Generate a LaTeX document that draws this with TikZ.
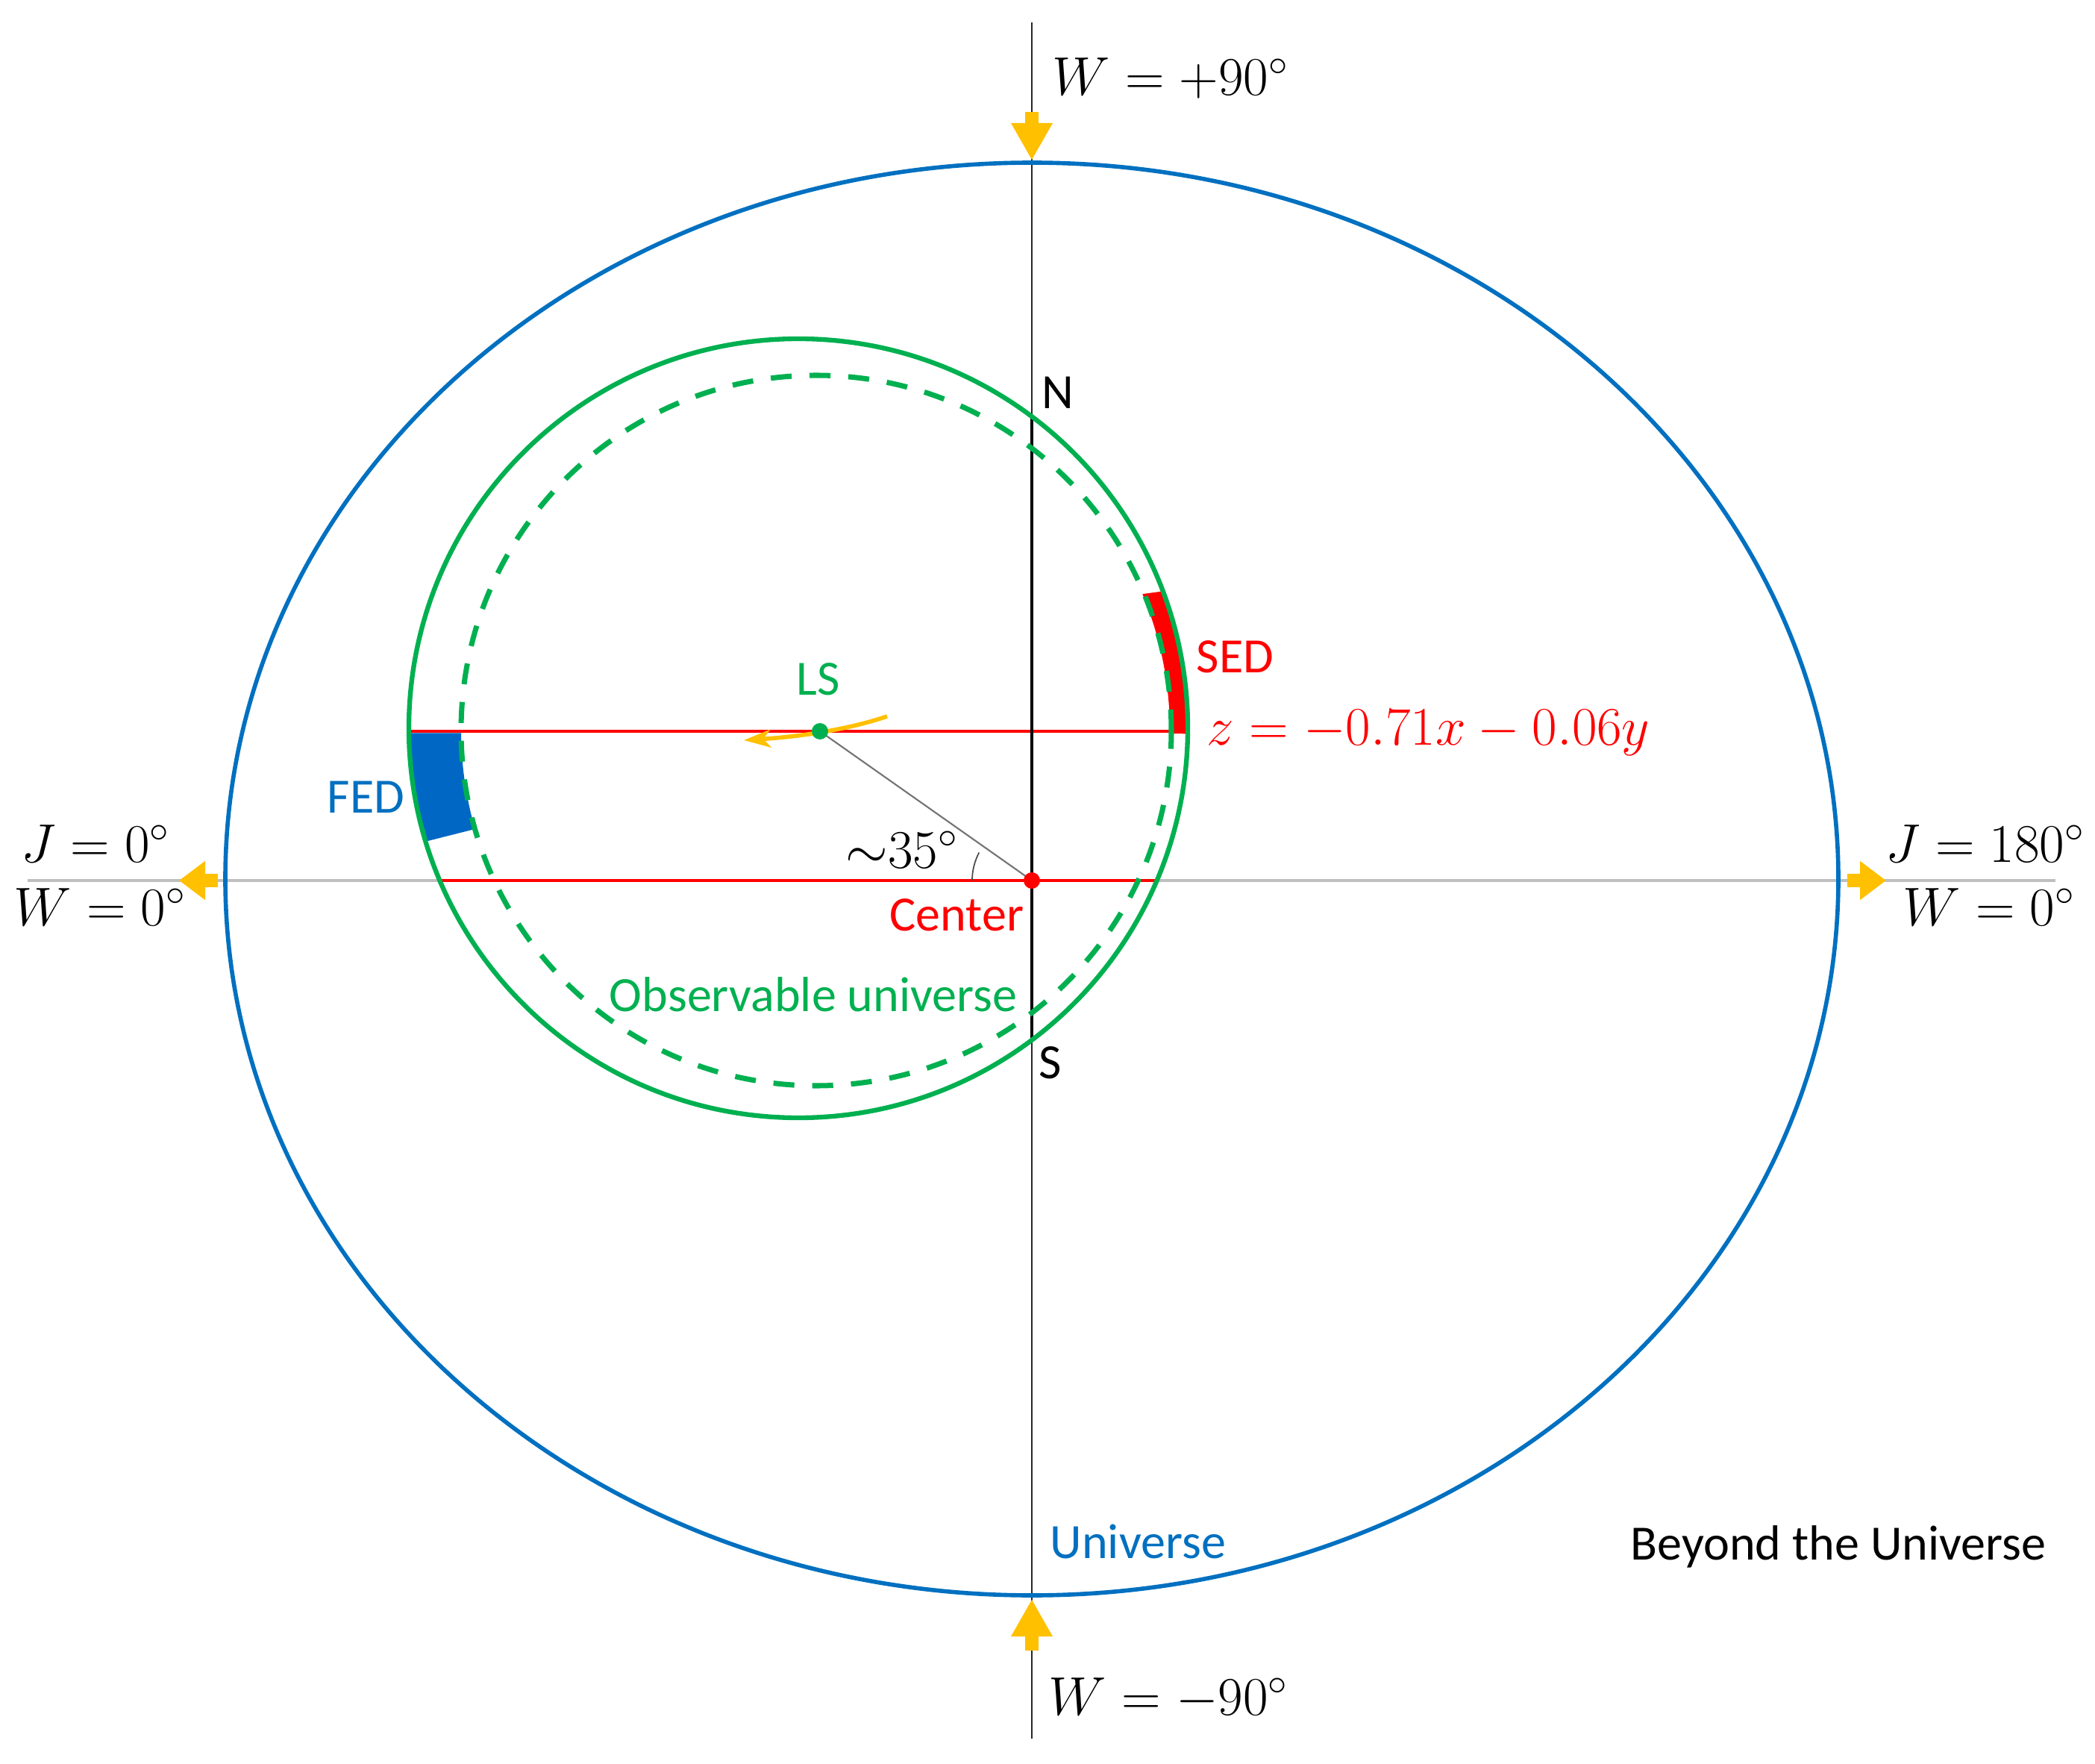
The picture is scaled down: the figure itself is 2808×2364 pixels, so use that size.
\documentclass[tikz,border=0pt]{standalone}
\usepackage[no-math]{fontspec}
\setmainfont{Carlito}
\usetikzlibrary{arrows.meta,calc}
\definecolor{uniblue}{HTML}{0070C0}
\definecolor{fedblue}{HTML}{0068C4}
\definecolor{obsgreen}{HTML}{00B050}
\definecolor{sedred}{HTML}{FF0000}
\definecolor{arrowyellow}{HTML}{FFC000}
\definecolor{axisgray}{HTML}{BFBFBF}

\begin{document}
\begin{tikzpicture}[
			x=0.01cm, y=0.01cm,
			uniline/.style={line width=1.6pt, draw=uniblue},
			obsline/.style={line width=1.8pt, draw=obsgreen},
			obsdash/.style={line width=2pt, draw=obsgreen, dash pattern=on 8pt off 6.8pt},
			redline/.style={line width=1.4pt, draw=sedred},
			yarrowv/.style={line width=0.18cm, draw=arrowyellow, -{Triangle[length=0.5cm,width=0.52cm]}},
			yarrowh/.style={line width=0.18cm, draw=arrowyellow, -{Triangle[length=0.35cm,width=0.5cm]}},
			txt/.style={inner sep=0pt, font=\fontsize{18.8}{22}\selectfont},
			mth/.style={inner sep=0pt, font=\fontsize{20.5}{24}\selectfont}
		]
			\useasboundingbox (0,0) rectangle (2808,-2364);
			\coordinate (O) at (1383,-1180);
			\coordinate (G) at (1070,-976);
			\coordinate (D) at (1094,-979);
			\coordinate (LS) at (1099,-980);
			\coordinate (top) at (1383,-30);
			\coordinate (bot) at (1383,-2330);
			\coordinate (west) at (37,-1180);
			\coordinate (east) at (2755,-1180);
			\coordinate (Npt) at (1383,-558);
			\coordinate (Spt) at (1383,-1394);
			\coordinate (FEDedge) at (548,-980);
			\coordinate (SEDedge) at (1590,-980);
			\coordinate (lowwest) at (590,-1180);
			\coordinate (loweast) at (1550,-1180);
			% axes and universe
			\draw[line width=0.9pt, draw=axisgray] (west) -- (east);
			\draw[line width=0.8pt, draw=black!85] (top) -- (bot);
			\draw[uniline] (1383,-1178) ellipse[x radius=1081, y radius=960];
			% SED and FED
			\fill[sedred] ($(G)+(-0.8:522)$) arc[start angle=-0.8, end angle=20.6, radius=522]
				-- ($(D)+(22.7:474)$) arc[start angle=22.7, end angle=-0.5, radius=474] -- cycle;
			\fill[fedblue] ($(G)+(180.7:522)$) arc[start angle=180.7, end angle=196.9, radius=522]
				-- ($(D)+(196.1:476)$) arc[start angle=196.1, end angle=180.4, radius=476] -- cycle;
			\draw[redline] (FEDedge) -- (SEDedge);
			\draw[redline] (lowwest) -- (loweast);
			\draw[line width=1.4pt, draw=black] (Npt) -- (Spt);
			% observable universe
			\draw[obsline] (G) circle[radius=522];
			\draw[obsdash] (D) circle[radius=476];
			\draw[line width=0.6pt, draw=black!55] (LS) -- (O);
			\draw[line width=0.5pt, draw=black!70] ($(O)+(180:80)$) arc[start angle=180, end angle=152, radius=80];
			\draw[line width=1.6pt, draw=arrowyellow, -{Stealth[length=0.36cm,width=0.24cm,inset=0.1cm]}]
				(1189,-960) .. controls (1130,-980) and (1060,-988) .. (997,-992);
			\fill[sedred] (O) circle[radius=11];
			\fill[obsgreen] (LS) circle[radius=11];
			% yellow arrows
			\coordinate (ntail) at (1383,-150);
			\coordinate (ntip) at (1383,-215);
			\coordinate (stail) at (1383,-2212);
			\coordinate (stip) at (1383,-2143);
			\coordinate (wtail) at (292,-1180);
			\coordinate (wtip) at (240,-1180);
			\coordinate (etail) at (2476,-1180);
			\coordinate (etip) at (2528,-1180);
			\draw[yarrowv] (ntail) -- (ntip);
			\draw[yarrowv] (stail) -- (stip);
			\draw[yarrowh] (wtail) -- (wtip);
			\draw[yarrowh] (etail) -- (etip);
			% labels
			\node[mth, anchor=base west] (wplus) at (1410,-128) {$W = +90^{\circ}$};
			\node[mth, anchor=base west] (wminus) at (1405,-2298) {$W = -90^{\circ}$};
			\node[mth, anchor=base] (jzero) at (128,-1155) {$J = 0^{\circ}$};
			\node[mth, anchor=base] (wzeroL) at (134,-1240) {$W = 0^{\circ}$};
			\node[mth, anchor=base] (jpi) at (2661,-1155) {$J = 180^{\circ}$};
			\node[mth, anchor=base] (wzeroR) at (2666,-1240) {$W = 0^{\circ}$};
			\node[mth, anchor=base east] (ang) at (1285,-1163) {${\sim}35^{\circ}$};
			\node[mth, anchor=base west, text=sedred] (eq) at (1617,-998) {$z = -0.71x - 0.06y$};
			\node[txt, anchor=base east, text=sedred] (ctr) at (1373,-1247) {Center};
			\node[txt, anchor=base east, text=obsgreen] (obs) at (1364,-1355) {Observable universe};
			\node[txt, anchor=base west] (nlbl) at (1396,-548) {N};
			\node[txt, anchor=base west] (slbl) at (1392,-1445) {S};
			\node[txt, anchor=base, text=obsgreen] (lslbl) at (1097,-931) {LS};
			\node[txt, anchor=base west, text=sedred] (sedlbl) at (1603,-901) {SED};
			\node[txt, anchor=base east, text=uniblue] (fedlbl) at (543,-1089) {FED};
			\node[txt, anchor=base west, text=uniblue] (unilbl) at (1407,-2088) {Universe};
			\node[txt, anchor=base west] (beyond) at (2185,-2090) {Beyond the Universe};
		\end{tikzpicture}
\end{document}
